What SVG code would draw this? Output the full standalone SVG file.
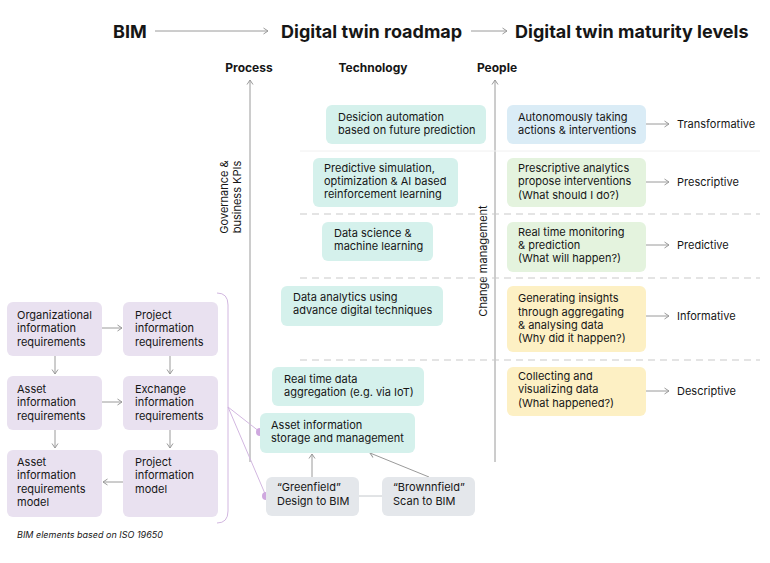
<svg xmlns="http://www.w3.org/2000/svg" width="770" height="563" viewBox="0 0 770 563">
<defs>
<marker id="ah" markerWidth="8" markerHeight="8" refX="6" refY="4" orient="auto" markerUnits="userSpaceOnUse">
<path d="M1.5,1 L6,4 L1.5,7" fill="none" stroke="#9a9a9a" stroke-width="1"/>
</marker>
<style>
text{font-family:Inter,"Liberation Sans",Arial,sans-serif;fill:#161616}
.t{font-size:11px}
.title{font-size:18px;font-weight:700}
.hd{font-size:12px;font-weight:700}
.cap{font-size:9px;font-style:italic}
.teal{fill:#d5f1ec}
.lav{fill:#e9e1f0}
.gray{fill:#e4e7eb}
.blue{fill:#daecf6}
.green{fill:#e4f3de}
.yel{fill:#fdf0c4}
.ln{stroke:#9a9a9a;stroke-width:1;fill:none}
.dash{stroke:#c9c9c9;stroke-width:1;stroke-dasharray:7 5;fill:none}
.pur{stroke:#d2b7e0;stroke-width:1;fill:none}
.dot{fill:#cfa8df}
</style>
</defs>

<g id="titles">
<text class="title" x="113" y="38">BIM</text>
<text class="title" x="281" y="38">Digital twin roadmap</text>
<text class="title" x="515" y="38">Digital twin maturity levels</text>
<text class="hd" x="249" y="72" text-anchor="middle">Process</text>
<text class="hd" x="373" y="72" text-anchor="middle">Technology</text>
<text class="hd" x="497" y="72" text-anchor="middle">People</text>
<text class="t" transform="translate(228,197) rotate(-90)" text-anchor="middle">Governance &amp;</text>
<text class="t" transform="translate(241,197) rotate(-90)" text-anchor="middle">business KPIs</text>
<text class="t" transform="translate(487,261) rotate(-90)" text-anchor="middle">Change management</text>
<text class="cap" x="17" y="538">BIM elements based on ISO 19650</text>
</g>

<g id="connectors">
<line class="ln" x1="155" y1="31" x2="268" y2="31" marker-end="url(#ah)"/>
<line class="ln" x1="471" y1="31" x2="507" y2="31" marker-end="url(#ah)"/>
<line class="ln" x1="250" y1="462" x2="250" y2="80" marker-end="url(#ah)"/>
<line class="ln" x1="495" y1="462" x2="495" y2="80" marker-end="url(#ah)"/>
<line x1="300" y1="151" x2="760" y2="151" stroke="#f0f0f0" stroke-width="1"/>
<line class="dash" x1="300" y1="214" x2="760" y2="214"/>
<line class="dash" x1="300" y1="278" x2="760" y2="278"/>
<line class="dash" x1="300" y1="360" x2="760" y2="360"/>
<line class="ln" x1="646" y1="124" x2="669" y2="124" marker-end="url(#ah)"/>
<line class="ln" x1="646" y1="182" x2="669" y2="182" marker-end="url(#ah)"/>
<line class="ln" x1="646" y1="245" x2="669" y2="245" marker-end="url(#ah)"/>
<line class="ln" x1="646" y1="316" x2="669" y2="316" marker-end="url(#ah)"/>
<line class="ln" x1="646" y1="391" x2="669" y2="391" marker-end="url(#ah)"/>
<line class="ln" x1="102" y1="328" x2="122" y2="328" marker-end="url(#ah)"/>
<line class="ln" x1="102" y1="402" x2="122" y2="402" marker-end="url(#ah)"/>
<line class="ln" x1="123" y1="482" x2="103" y2="482" marker-end="url(#ah)"/>
<line class="ln" x1="55" y1="356" x2="55" y2="374" marker-end="url(#ah)"/>
<line class="ln" x1="55" y1="430" x2="55" y2="448" marker-end="url(#ah)"/>
<line class="ln" x1="170" y1="356" x2="170" y2="374" marker-end="url(#ah)"/>
<line class="ln" x1="170" y1="430" x2="170" y2="448" marker-end="url(#ah)"/>
<line class="ln" x1="312" y1="477" x2="312" y2="454" marker-end="url(#ah)"/>
<line class="ln" x1="429" y1="477" x2="370" y2="453" marker-end="url(#ah)"/>
<line x1="359" y1="496" x2="382" y2="496" stroke="#c4c8cc" stroke-width="1"/>
<path class="pur" d="M217,293 Q228,293 228,305 L228,511 Q228,523 217,523"/>
<line class="pur" x1="228" y1="407" x2="260" y2="432"/>
<line class="pur" x1="228" y1="407" x2="266" y2="496"/>
<circle class="dot" cx="260" cy="432" r="4"/>
<circle class="dot" cx="266" cy="496" r="4"/>
</g>

<g id="oir"><rect class="lav" x="7" y="302" width="95" height="54" rx="6"/>
<text class="t" x="17" y="319">Organizational</text><text class="t" x="17" y="332">information</text><text class="t" x="17" y="346">requirements</text></g>
<g id="pir"><rect class="lav" x="123" y="302" width="95" height="54" rx="6"/>
<text class="t" x="135" y="319">Project</text><text class="t" x="135" y="332">information</text><text class="t" x="135" y="346">requirements</text></g>
<g id="air"><rect class="lav" x="7" y="376" width="95" height="54" rx="6"/>
<text class="t" x="17" y="393">Asset</text><text class="t" x="17" y="406">information</text><text class="t" x="17" y="420">requirements</text></g>
<g id="eir"><rect class="lav" x="123" y="376" width="95" height="54" rx="6"/>
<text class="t" x="135" y="393">Exchange</text><text class="t" x="135" y="406">information</text><text class="t" x="135" y="420">requirements</text></g>
<g id="airm"><rect class="lav" x="7" y="450" width="95" height="67" rx="6"/>
<text class="t" x="17" y="466">Asset</text><text class="t" x="17" y="479">information</text><text class="t" x="17" y="493">requirements</text><text class="t" x="17" y="506">model</text></g>
<g id="pim"><rect class="lav" x="123" y="450" width="95" height="67" rx="6"/>
<text class="t" x="135" y="466">Project</text><text class="t" x="135" y="479">information</text><text class="t" x="135" y="493">model</text></g>

<g id="tech1"><rect class="teal" x="326" y="105" width="160" height="39" rx="6"/>
<text class="t" x="338" y="121">Desicion automation</text><text class="t" x="338" y="134">based on future prediction</text></g>
<g id="tech2"><rect class="teal" x="313" y="158" width="145" height="49" rx="6"/>
<text class="t" x="324" y="172">Predictive simulation,</text><text class="t" x="324" y="185">optimization &amp; AI based</text><text class="t" x="324" y="198">reinforcement learning</text></g>
<g id="tech3"><rect class="teal" x="322" y="222" width="111" height="39" rx="6"/>
<text class="t" x="334" y="237">Data science &amp;</text><text class="t" x="334" y="250">machine learning</text></g>
<g id="tech4"><rect class="teal" x="281" y="286" width="162" height="40" rx="6"/>
<text class="t" x="293" y="301">Data analytics using</text><text class="t" x="293" y="314">advance digital techniques</text></g>
<g id="tech5"><rect class="teal" x="272" y="367" width="152" height="39" rx="6"/>
<text class="t" x="284" y="383">Real time data</text><text class="t" x="284" y="396">aggregation (e.g. via IoT)</text></g>
<g id="tech6"><rect class="teal" x="260" y="413" width="155" height="40" rx="6"/>
<text class="t" x="271" y="429">Asset information</text><text class="t" x="271" y="442">storage and management</text></g>
<g id="green"><rect class="gray" x="266" y="477" width="93" height="39" rx="6"/>
<text class="t" x="277" y="491">“Greenfield”</text><text class="t" x="277" y="505">Design to BIM</text></g>
<g id="brown"><rect class="gray" x="382" y="477" width="93" height="39" rx="6"/>
<text class="t" x="393" y="491">“Brownnfield”</text><text class="t" x="393" y="505">Scan to BIM</text></g>

<g id="lvl5"><rect class="blue" x="507" y="105" width="139" height="39" rx="6"/>
<text class="t" x="518" y="121">Autonomously taking</text><text class="t" x="518" y="134">actions &amp; interventions</text>
<text class="t" x="677" y="128">Transformative</text></g>
<g id="lvl4"><rect class="green" x="507" y="158" width="139" height="49" rx="6"/>
<text class="t" x="518" y="172">Prescriptive analytics</text><text class="t" x="518" y="185">propose interventions</text><text class="t" x="518" y="199">(What should I do?)</text>
<text class="t" x="677" y="186">Prescriptive</text></g>
<g id="lvl3"><rect class="green" x="507" y="222" width="139" height="50" rx="6"/>
<text class="t" x="518" y="236">Real time monitoring</text><text class="t" x="518" y="249">&amp; prediction</text><text class="t" x="518" y="262">(What will happen?)</text>
<text class="t" x="677" y="249">Predictive</text></g>
<g id="lvl2"><rect class="yel" x="507" y="286" width="139" height="66" rx="6"/>
<text class="t" x="518" y="302">Generating insights</text><text class="t" x="518" y="316">through aggregating</text><text class="t" x="518" y="329">&amp; analysing data</text><text class="t" x="518" y="342">(Why did it happen?)</text>
<text class="t" x="677" y="320">Informative</text></g>
<g id="lvl1"><rect class="yel" x="507" y="367" width="139" height="49" rx="6"/>
<text class="t" x="518" y="380">Collecting and</text><text class="t" x="518" y="393">visualizing data</text><text class="t" x="518" y="407">(What happened?)</text>
<text class="t" x="677" y="395">Descriptive</text></g>
</svg>
